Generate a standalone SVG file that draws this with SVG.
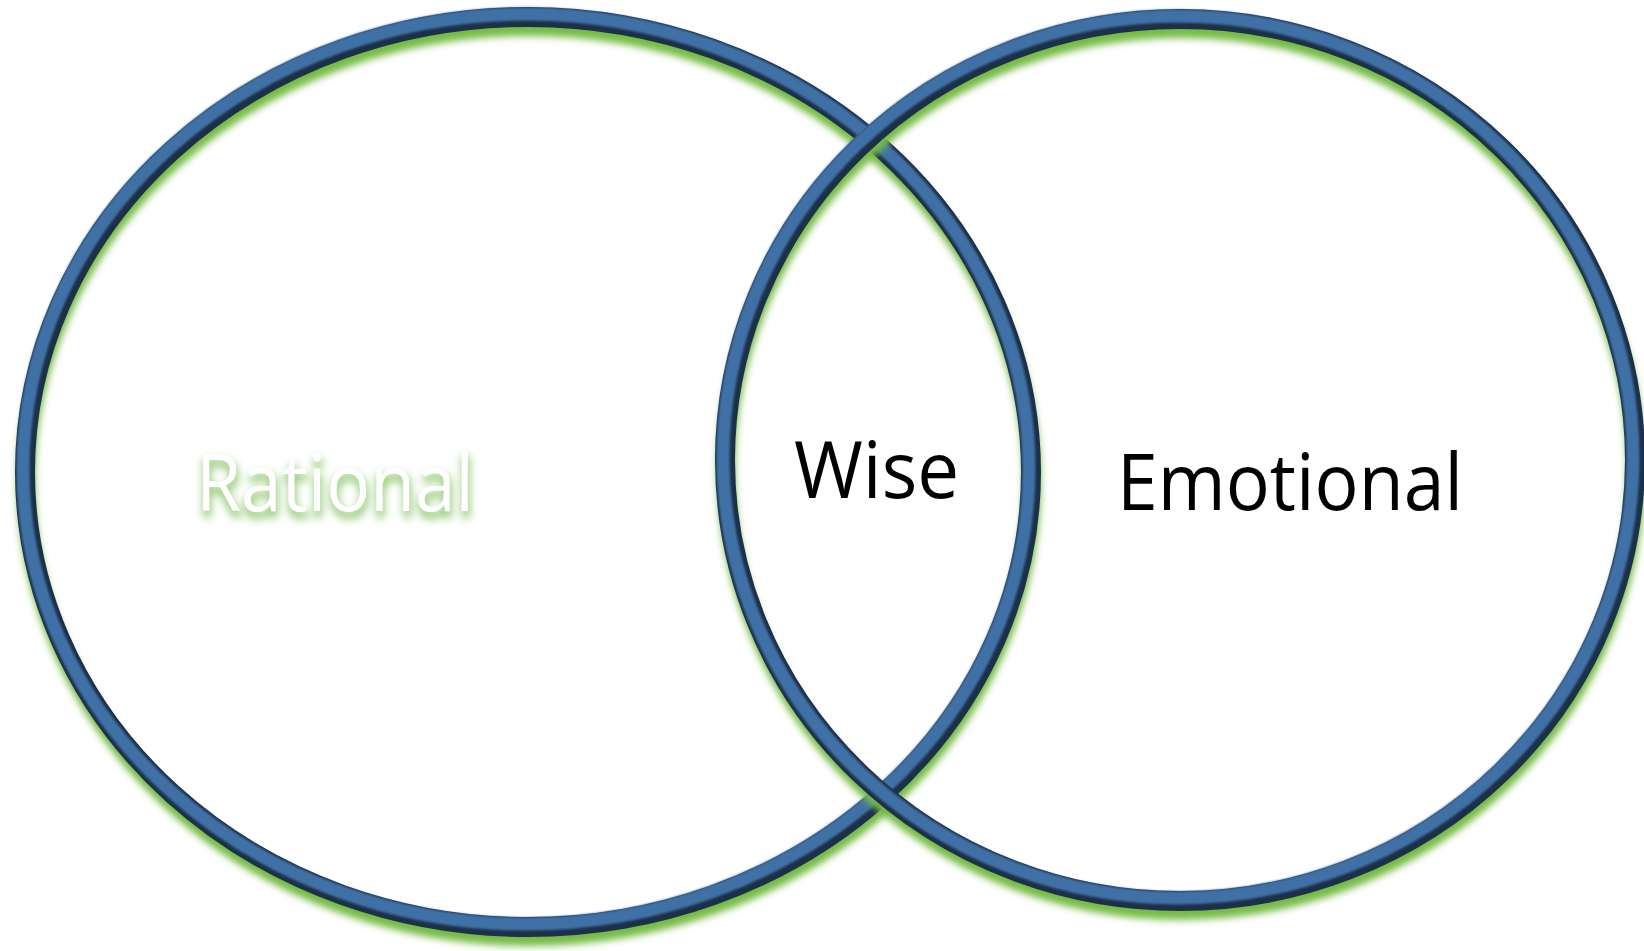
<svg xmlns="http://www.w3.org/2000/svg" width="1644" height="951" viewBox="0 0 1644 951">
  <defs>
    <filter id="glow" x="-10%" y="-10%" width="120%" height="120%">
      <feGaussianBlur stdDeviation="3.5"/>
    </filter>
    <filter id="soft" x="-5%" y="-5%" width="110%" height="110%">
      <feGaussianBlur stdDeviation="1.2"/>
    </filter>
    <filter id="textGlow" x="-20%" y="-40%" width="140%" height="180%">
      <feMorphology in="SourceAlpha" operator="dilate" radius="1" result="d"/>
      <feGaussianBlur in="d" stdDeviation="4" result="b"/>
      <feOffset in="b" dx="1" dy="6" result="o"/>
      <feFlood flood-color="#8cc66a" flood-opacity="0.9"/>
      <feComposite in2="o" operator="in" result="g"/>
      <feMerge>
        <feMergeNode in="g"/>
        <feMergeNode in="SourceGraphic"/>
      </feMerge>
    </filter>
  </defs>
  <style>
    .halo { fill: none; stroke: #76bb45; stroke-width: 18; }
    .edge { fill: none; stroke: #1d3049; stroke-width: 20; }
    .face { fill: none; stroke: #4071a6; stroke-width: 13; }
    .label { font-family: "Open Sans", "Noto Sans", sans-serif; font-size: 79px; }
    .dark { fill: #000000; }
    .light { fill: #ffffff; }
  </style>
  <rect width="1644" height="951" fill="#ffffff"/>

  <g id="rational">
    <ellipse class="halo" cx="529" cy="482" rx="503" ry="455" filter="url(#glow)"/>
    <ellipse class="edge" cx="528" cy="472" rx="503" ry="455"/>
    <ellipse class="face" cx="526" cy="469" rx="503" ry="455" filter="url(#soft)"/>
    <text class="label light" x="196" y="511" textLength="278" lengthAdjust="spacingAndGlyphs" filter="url(#textGlow)">Rational</text>
  </g>

  <g id="emotional">
    <ellipse class="halo" cx="1181" cy="470" rx="455" ry="441" filter="url(#glow)"/>
    <ellipse class="edge" cx="1180" cy="460" rx="455" ry="441"/>
    <ellipse class="face" cx="1178" cy="457" rx="455" ry="441" filter="url(#soft)"/>
    <text class="label dark" x="1117" y="510" textLength="346" lengthAdjust="spacingAndGlyphs">Emotional</text>
  </g>

  <g id="wise">
    <text class="label dark" x="794" y="498" textLength="165" lengthAdjust="spacingAndGlyphs">Wise</text>
  </g>

  <g id="connectors"></g>
</svg>
